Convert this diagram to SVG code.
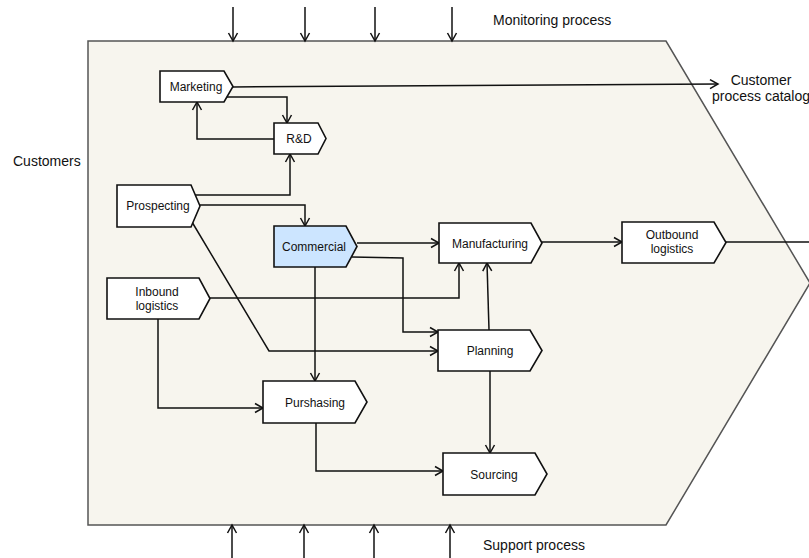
<svg xmlns="http://www.w3.org/2000/svg" width="809" height="558" viewBox="0 0 809 558">
  <style>
    .node { fill: #ffffff; stroke: #111111; stroke-width: 1.6; }
    .node.hl { fill: #cce5ff; }
    .lbl { font-family: "Liberation Sans", Arial, sans-serif; font-size: 12px; fill: #111111; text-anchor: middle; }
    .out { font-family: "Liberation Sans", Arial, sans-serif; font-size: 14px; fill: #111111; }
    .edge { fill: none; stroke: #111111; stroke-width: 1.5; marker-end: url(#open); }
  </style>
  <defs>
    <marker id="open" viewBox="-10 -6 12 12" refX="0" refY="0" markerWidth="12" markerHeight="12" markerUnits="userSpaceOnUse" orient="auto">
      <path d="M-8,-4.5 L0,0 L-8,4.5" fill="none" stroke="#111111" stroke-width="1.5"/>
    </marker>
  </defs>

  <rect width="809" height="558" fill="#ffffff"/>

  <!-- value chain envelope -->
  <path id="chain" d="M88,41 H666 L810,283 L666,525 H88 Z" fill="#f7f5ee" stroke="#555555" stroke-width="1.5"/>

  <!-- side labels -->
  <text class="out" x="493" y="25">Monitoring process</text>
  <text class="out" x="483" y="550">Support process</text>
  <text class="out" x="13" y="166">Customers</text>
  <text class="out" x="761" y="85" text-anchor="middle">Customer</text>
  <text class="out" x="761" y="101" text-anchor="middle">process catalog</text>

  <g id="connectors">
    <!-- monitoring inputs -->
    <path class="edge" d="M233,7 V41"/>
    <path class="edge" d="M305,7 V41"/>
    <path class="edge" d="M375,7 V41"/>
    <path class="edge" d="M452,7 V41"/>
    <!-- support inputs -->
    <path class="edge" d="M232,558 V525"/>
    <path class="edge" d="M304,558 V525"/>
    <path class="edge" d="M374,558 V525"/>
    <path class="edge" d="M450,558 V525"/>

    <path class="edge" d="M233,87 L718,84"/>
    <path class="edge" d="M227,97 H287 V123"/>
    <path class="edge" d="M274,139 H197 V102"/>
    <path class="edge" d="M195,195 H290 V154"/>
    <path class="edge" d="M200,205 H305 V226"/>
    <path class="edge" d="M192,222 L269,351 H438"/>
    <path class="edge" d="M357,243 H439"/>
    <path class="edge" d="M352,257 L403,258 V332 H438"/>
    <path class="edge" d="M315,267 V381"/>
    <path class="edge" d="M210,298 H459 V263"/>
    <path class="edge" d="M158,319 V408 H263"/>
    <path class="edge" d="M489,330 L487,263"/>
    <path class="edge" d="M490,371 V453"/>
    <path class="edge" d="M316,423 V471 H443"/>
    <path class="edge" d="M542,242 H622"/>
    <path d="M726,242 H815" fill="none" stroke="#111111" stroke-width="1.5"/>
  </g>

  <g id="marketing">
    <path class="node" d="M160,71 H224 L233,86.5 L224,102 H160 Z"/>
    <text class="lbl" x="196" y="91">Marketing</text>
  </g>
  <g id="rnd">
    <path class="node" d="M274,123 H318 L326,138.5 L318,154 H274 Z"/>
    <text class="lbl" x="299" y="143">R&amp;D</text>
  </g>
  <g id="prospecting">
    <path class="node" d="M117,185 H191 L200,206 L191,227 H117 Z"/>
    <text class="lbl" x="158" y="210">Prospecting</text>
  </g>
  <g id="commercial">
    <path class="node hl" d="M274,226 H346 L357,246.5 L346,267 H274 Z"/>
    <text class="lbl" x="314" y="251">Commercial</text>
  </g>
  <g id="inbound">
    <path class="node" d="M107,278 H199 L210,298.5 L199,319 H107 Z"/>
    <text class="lbl" x="157" y="295.5">Inbound</text>
    <text class="lbl" x="157" y="309.5">logistics</text>
  </g>
  <g id="manufacturing">
    <path class="node" d="M439,223 H531 L542,243 L531,263 H439 Z"/>
    <text class="lbl" x="490" y="247.5">Manufacturing</text>
  </g>
  <g id="outbound">
    <path class="node" d="M622,222 H714 L726,242.5 L714,263 H622 Z"/>
    <text class="lbl" x="672" y="239">Outbound</text>
    <text class="lbl" x="672" y="253">logistics</text>
  </g>
  <g id="planning">
    <path class="node" d="M438,330 H530 L542,350.5 L530,371 H438 Z"/>
    <text class="lbl" x="490" y="355">Planning</text>
  </g>
  <g id="purshasing">
    <path class="node" d="M263,381 H355 L367,402 L355,423 H263 Z"/>
    <text class="lbl" x="315" y="406.5">Purshasing</text>
  </g>
  <g id="sourcing">
    <path class="node" d="M443,453 H535 L547,474 L535,495 H443 Z"/>
    <text class="lbl" x="494" y="478.5">Sourcing</text>
  </g>
</svg>
